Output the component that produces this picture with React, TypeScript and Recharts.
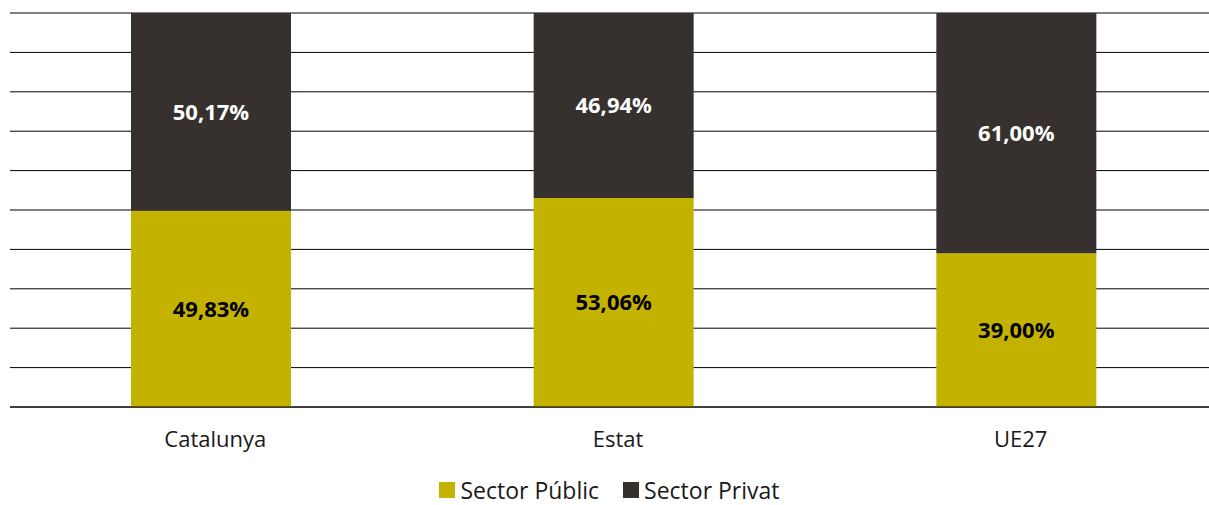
import { BarChart, Bar, XAxis, YAxis, CartesianGrid, Legend, LabelList } from "recharts";

const categories = ["Catalunya", "Estat", "UE27"];
const sectorPublic = [49.83, 53.06, 39.0];
const sectorPrivat = [50.17, 46.94, 61.0];
const gridTicks = [0, 0.1, 0.2, 0.3, 0.4, 0.5, 0.6, 0.7, 0.8, 0.9, 1];

const series = [
  { key: "public", name: "Sector Públic", color: "#C4B200", text: "#000000" },
  { key: "privat", name: "Sector Privat", color: "#36312E", text: "#FFFFFF" },
];

const data = categories.map((name, i) => ({
  name,
  public: sectorPublic[i],
  privat: sectorPrivat[i],
}));

const FONT = "'Open Sans', 'Noto Sans', sans-serif";

const fmt = (v: number) => v.toFixed(2).replace(".", ",") + "%";

function renderLegend() {
  return (
    <div
      style={{
        display: "flex",
        justifyContent: "center",
        alignItems: "center",
        gap: 24,
        paddingTop: 16,
        height: 30,
        fontFamily: FONT,
        fontSize: 23,
        lineHeight: "26px",
        color: "#1a1a1a",
      }}
    >
      {series.map((s) => (
        <span key={s.key} style={{ display: "flex", alignItems: "center" }}>
          <span
            style={{
              display: "inline-block",
              width: 16,
              height: 16,
              background: s.color,
              marginRight: 5,
            }}
          />
          {s.name}
        </span>
      ))}
    </div>
  );
}

export default function App() {
  return (
    <div style={{ position: "absolute", left: 0, top: 0, width: 1209, height: 505, overflow: "hidden", background: "#fff" }}>
      <BarChart
        width={1218}
        height={505}
        data={data}
        stackOffset="expand"
        margin={{ top: 13, right: 0, left: 10, bottom: 0 }}
      >
        <CartesianGrid vertical={false} stroke="#000" strokeWidth={1} />
        <YAxis hide domain={[0, 1]} ticks={gridTicks} />
        <XAxis
          dataKey="name"
          height={52}
          axisLine={{ stroke: "#000" }}
          tickLine={false}
          tickMargin={18}
          tick={{ fontFamily: FONT, fontSize: 22, fill: "#1a1a1a", dx: 4 }}
        />
        <Legend
          height={46}
          verticalAlign="bottom"
          content={renderLegend}
          wrapperStyle={{ left: 10, width: 1199 }}
        />
        {series.map((s) => (
          <Bar
            key={s.key}
            dataKey={s.key}
            name={s.name}
            stackId="a"
            fill={s.color}
            barSize={160}
            isAnimationActive={false}
          >
            <LabelList
              dataKey={s.key}
              position="center"
              formatter={(v: number) => fmt(v)}
              style={{ fontFamily: FONT, fontSize: 22, fontWeight: 700, fill: s.text }}
            />
          </Bar>
        ))}
      </BarChart>
    </div>
  );
}
